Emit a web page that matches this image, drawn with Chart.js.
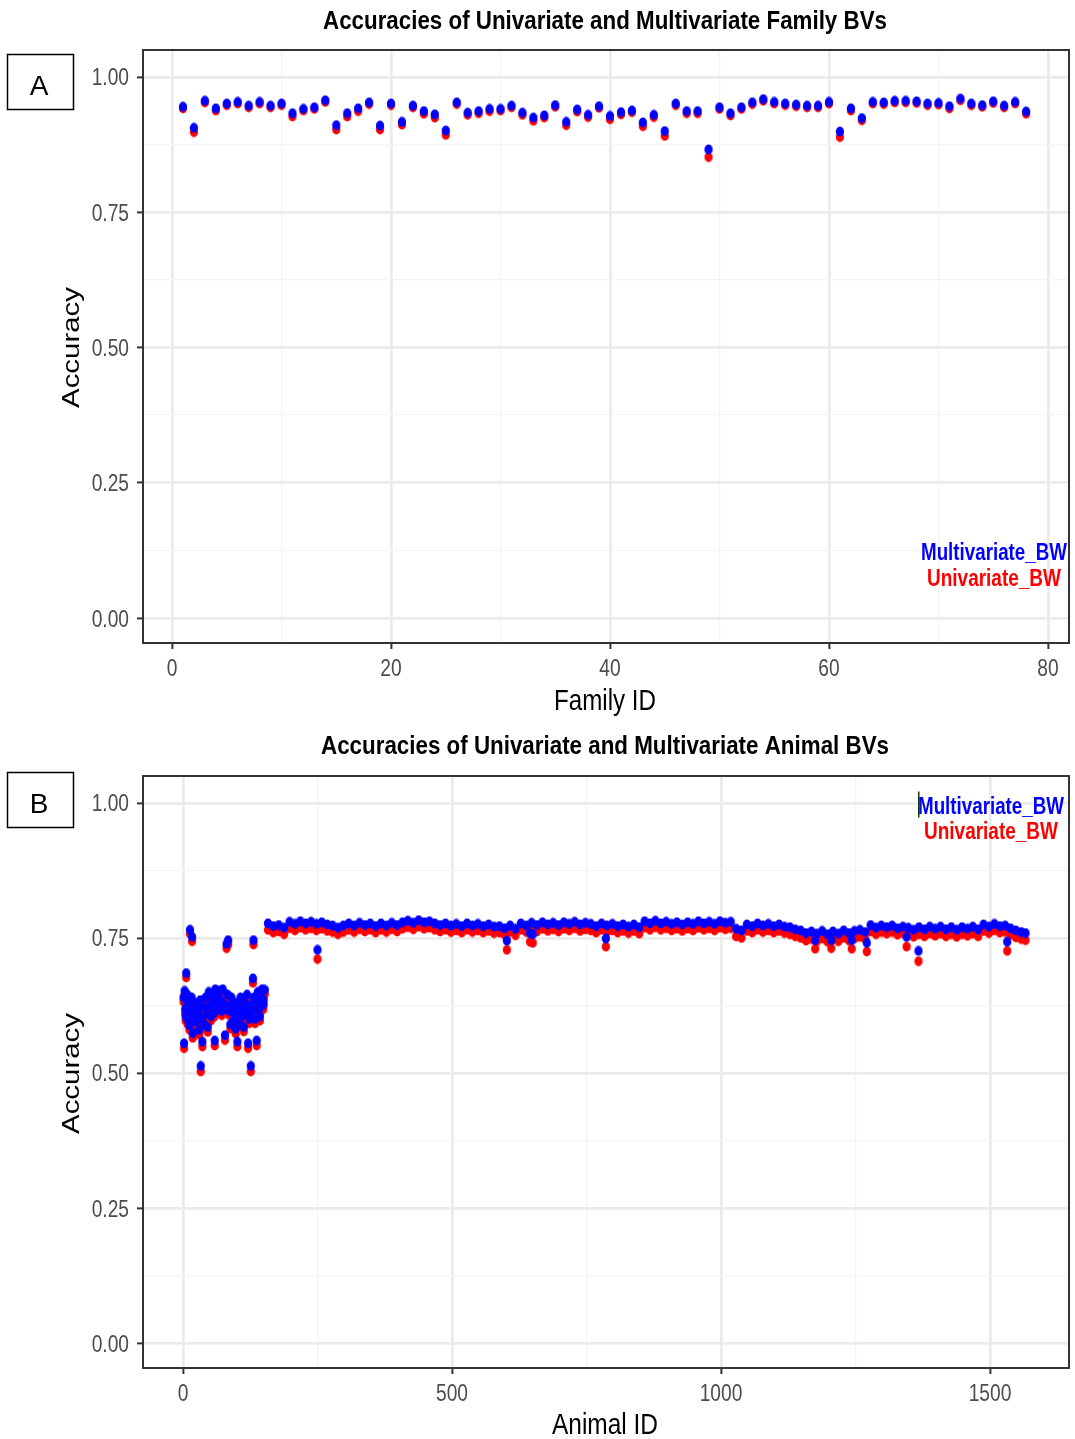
<!DOCTYPE html>
<html>
<head>
<meta charset="utf-8">
<script src="https://cdn.jsdelivr.net/npm/chart.js@4.4.1/dist/chart.umd.min.js"></script>
<style>
  body { margin: 0; background: #fff; }
  #wrap { position: relative; width: 1075px; height: 1439px; }
  canvas { position: absolute; left: 0; }
  #chartA { top: 0; }
  #chartB { top: 718px; }
</style>
</head>
<body>
<div id="wrap">
  <canvas id="chartA" width="1075" height="718"></canvas>
  <canvas id="chartB" width="1075" height="721"></canvas>
</div>
<script>
// Accuracies of univariate vs multivariate BVs — two scatter panels

const BLUE = '#0000FF';
const RED = '#FF0000';
const FONT = "'Liberation Sans', Arial, sans-serif";
const SX = 0.8; // the figure is squeezed horizontally

// ─── PANEL A: families ─────────────────────────────────────
const familyIds = [1,2,3,4,5,6,7,8,9,10,11,12,13,14,15,16,17,18,19,20,21,22,23,24,25,26,27,28,29,30,31,32,33,34,35,36,37,38,39,40,
  41,42,43,44,45,46,47,48,49,50,51,52,53,54,55,56,57,58,59,60,61,62,63,64,65,66,67,68,69,70,71,72,73,74,75,76,77,78];
const familyMulti = [0.945,0.906,0.956,0.942,0.951,0.954,0.947,0.954,0.947,0.951,0.933,0.941,0.944,0.957,0.911,0.933,0.942,0.953,0.910,0.951,
  0.917,0.947,0.937,0.931,0.901,0.953,0.934,0.937,0.941,0.941,0.947,0.934,0.925,0.929,0.948,0.917,0.940,0.930,0.946,0.928,
  0.935,0.938,0.916,0.930,0.900,0.951,0.937,0.937,0.866,0.944,0.933,0.944,0.953,0.959,0.954,0.951,0.949,0.947,0.947,0.954,
  0.899,0.942,0.924,0.954,0.953,0.956,0.956,0.955,0.951,0.952,0.946,0.960,0.951,0.948,0.955,0.947,0.954,0.936];
const familyUni = [0.942,0.898,0.953,0.938,0.948,0.951,0.944,0.951,0.944,0.948,0.927,0.938,0.941,0.954,0.903,0.927,0.937,0.950,0.903,0.948,
  0.912,0.944,0.932,0.925,0.893,0.950,0.930,0.933,0.937,0.938,0.944,0.930,0.919,0.925,0.945,0.911,0.936,0.926,0.943,0.922,
  0.931,0.935,0.909,0.926,0.891,0.948,0.933,0.933,0.852,0.941,0.929,0.941,0.950,0.956,0.951,0.948,0.946,0.944,0.944,0.951,
  0.889,0.938,0.920,0.951,0.950,0.953,0.953,0.952,0.948,0.949,0.942,0.957,0.948,0.945,0.952,0.944,0.951,0.932];

// ─── PANEL B: animals ──────────────────────────────────────
// young animals (scattered cluster)
const clusterIds = [1,2,3,4,5,6,7,8,9,10,11,12,13,14,15,16,17,18,19,20,22,24,26,28,30,32,33,35,36,38,40,42,44,46,48,50,52,54,56,58,
  59,60,62,64,66,68,70,72,74,76,78,80,81,83,84,86,88,90,92,94,96,98,100,101,103,105,107,109,111,113,115,117,119,121,123,125,126,128,130,131,
  132,134,136,137,139,141,143,145,147,149,150,152];
const clusterMulti = [0.640,0.555,0.652,0.618,0.605,0.685,0.628,0.645,0.598,0.610,0.633,0.588,0.765,0.620,0.600,0.640,0.752,0.574,0.615,0.605,
  0.630,0.595,0.625,0.612,0.580,0.635,0.513,0.600,0.558,0.622,0.590,0.640,0.610,0.585,0.650,0.625,0.605,0.645,0.630,0.612,
  0.560,0.655,0.640,0.620,0.650,0.652,0.635,0.615,0.655,0.628,0.570,0.625,0.739,0.645,0.746,0.615,0.590,0.640,0.625,0.600,
  0.610,0.582,0.630,0.558,0.615,0.595,0.640,0.605,0.620,0.585,0.630,0.610,0.645,0.555,0.600,0.625,0.513,0.615,0.675,0.746,
  0.640,0.600,0.628,0.560,0.650,0.618,0.605,0.640,0.655,0.626,0.635,0.654];
const clusterUni = [0.632,0.546,0.644,0.610,0.597,0.677,0.620,0.637,0.590,0.601,0.625,0.580,0.758,0.612,0.592,0.632,0.744,0.565,0.607,0.597,
  0.622,0.587,0.617,0.604,0.571,0.627,0.503,0.592,0.549,0.614,0.582,0.632,0.602,0.576,0.642,0.617,0.597,0.637,0.622,0.604,
  0.551,0.647,0.632,0.612,0.642,0.644,0.627,0.607,0.647,0.620,0.561,0.617,0.731,0.637,0.738,0.607,0.582,0.632,0.617,0.592,
  0.602,0.573,0.622,0.549,0.607,0.587,0.632,0.597,0.612,0.577,0.622,0.602,0.637,0.546,0.592,0.617,0.503,0.607,0.667,0.738,
  0.632,0.592,0.620,0.551,0.642,0.610,0.597,0.632,0.647,0.618,0.627,0.646];

// older animals (tight band)
const bandIds = [158,168,178,188,198,208,218,228,238,248,258,268,278,288,298,308,318,328,338,348,358,368,378,388,398,408,418,428,438,448,
  458,468,478,488,498,508,518,528,538,548,558,568,578,588,598,608,618,628,638,648,658,668,678,688,698,708,718,728,738,748,
  758,768,778,788,798,808,818,828,838,848,858,868,878,888,898,908,918,928,938,948,958,968,978,988,998,1008,1018,1028,1038,1048,
  1058,1068,1078,1088,1098,1108,1118,1128,1138,1148,1158,1168,1178,1188,1198,1208,1218,1228,1238,1248,1258,1268,1278,1288,1298,1308,1318,1328,1338,1348,
  1358,1368,1378,1388,1398,1408,1418,1428,1438,1448,1458,1468,1478,1488,1498,1508,1518,1528,1538,1548,1558,1566];
const bandMulti = [0.777,0.772,0.774,0.769,
  0.780,0.776,0.781,0.777,0.780,0.776,0.779,0.775,
  0.773,0.769,0.773,
  0.777,0.773,0.778,0.774,0.777,0.772,0.777,0.773,0.778,0.774,0.779,
  0.782,0.778,0.783,0.779,0.781,
  0.777,0.774,0.777,0.773,0.776,0.772,0.777,0.773,0.776,0.772,0.775,0.771,
  0.772,0.768,0.773,0.767,
  0.777,0.773,0.778,0.774,0.779,0.775,0.778,0.774,0.779,0.776,0.780,0.775,0.778,
  0.776,0.772,0.777,0.773,0.776,0.772,0.775,0.771,0.775,0.770,
  0.781,0.777,0.782,0.777,0.780,0.776,0.779,0.775,0.779,0.776,
  0.781,0.777,0.780,0.776,0.781,0.778,0.780,
  0.767,0.764,
  0.775,0.772,0.777,0.773,0.776,0.772,0.775,0.771,
  0.770,0.766,
  0.764,0.759,0.762,0.758,0.763,0.757,0.762,0.758,0.764,0.759,0.763,0.765,0.761,
  0.774,0.769,0.773,0.770,0.773,0.768,0.771,
  0.769,0.765,0.770,0.766,0.771,0.767,0.771,0.766,0.770,0.765,0.770,0.767,0.771,0.766,
  0.775,0.771,0.776,0.772,0.773,0.768,
  0.764,0.761,0.759];
const bandUni = [0.765,0.760,0.762,0.757,
  0.768,0.764,0.769,0.765,0.768,0.764,0.767,0.763,
  0.761,0.757,0.761,
  0.765,0.761,0.766,0.762,0.765,0.760,0.765,0.761,0.766,0.762,0.767,
  0.770,0.766,0.771,0.767,0.769,
  0.765,0.762,0.765,0.761,0.764,0.760,0.765,0.761,0.764,0.760,0.763,0.759,
  0.760,0.756,0.761,0.755,
  0.765,0.761,0.766,0.762,0.767,0.763,0.766,0.762,0.767,0.764,0.768,0.763,0.766,
  0.764,0.760,0.765,0.761,0.764,0.760,0.763,0.759,0.763,0.758,
  0.769,0.765,0.770,0.765,0.768,0.764,0.767,0.763,0.767,0.764,
  0.769,0.765,0.768,0.764,0.769,0.766,0.768,
  0.753,0.750,
  0.763,0.760,0.765,0.761,0.764,0.760,0.763,0.759,
  0.757,0.753,
  0.750,0.745,0.748,0.744,0.749,0.743,0.748,0.744,0.750,0.745,0.749,0.752,0.748,
  0.762,0.757,0.761,0.758,0.761,0.756,0.759,
  0.756,0.752,0.757,0.753,0.758,0.754,0.758,0.753,0.757,0.752,0.757,0.754,0.758,0.753,
  0.763,0.759,0.764,0.760,0.761,0.756,
  0.751,0.748,0.746];

// low points below the band
const outlierIds = [250,602,645,650,786,1175,1205,1243,1271,1345,1367,1532];
const outlierMulti = [0.728,0.745,0.759,0.757,0.749,0.746,0.746,0.746,0.741,0.752,0.726,0.743];
const outlierUni = [0.711,0.728,0.743,0.741,0.734,0.730,0.731,0.730,0.725,0.734,0.707,0.726];

// ─── AXES ─────────────────────────────────────────────────
const yMajor = [0, 0.25, 0.5, 0.75, 1];
const yMajorLabels = ['0.00', '0.25', '0.50', '0.75', '1.00'];
const yMinor = [0.125, 0.375, 0.625, 0.875];
const familyMajor = [0, 20, 40, 60, 80];
const familyMinor = [10, 30, 50, 70];
const animalMajor = [0, 500, 1000, 1500];
const animalMinor = [250, 750, 1250];

const toPoints = (xs, ys) => xs.map((x, i) => ({ x, y: ys[i] }));

// dots are slightly taller than wide in the squeezed figure
function dotImage(color) {
  const c = document.createElement('canvas');
  c.width = 10; c.height = 11;
  const g = c.getContext('2d');
  g.fillStyle = color;
  g.beginPath();
  g.ellipse(5, 5.5, 4.1, 4.9, 0, 0, Math.PI * 2);
  g.fill();
  return c;
}

function drawText(ctx, text, x, y, font, color, width, align, sx) {
  ctx.save();
  ctx.font = font;
  ctx.fillStyle = color;
  ctx.textBaseline = 'alphabetic';
  ctx.textAlign = align || 'center';
  const k = width ? width / ctx.measureText(text).width : (sx || SX);
  ctx.translate(x, y);
  ctx.scale(k, 1);
  ctx.fillText(text, 0, 0);
  ctx.restore();
}

function gridOpts(major) {
  const isMajor = c => c.tick && major.includes(c.tick.value);
  return {
    drawTicks: true,
    tickLength: 6,
    tickWidth: 2,
    color: c => isMajor(c) ? '#EBEBEB' : '#F4F4F4',
    lineWidth: c => isMajor(c) ? 2.8 : 1.3,
    tickColor: c => isMajor(c) ? '#333333' : 'rgba(0,0,0,0)',
  };
}

const decor = cfg => ({
  id: 'decor',
  afterDraw(chart) {
    const { ctx, chartArea: a, scales } = chart;

    // panel border
    ctx.save();
    ctx.strokeStyle = '#333333';
    ctx.lineWidth = 2;
    ctx.strokeRect(a.left, a.top, a.right - a.left, a.bottom - a.top);
    ctx.restore();

    // tick labels
    const tickFont = `24px ${FONT}`;
    yMajor.forEach((v, i) => drawText(ctx, yMajorLabels[i], 129, scales.y.getPixelForValue(v) + 8.5, tickFont, '#4D4D4D', null, 'right'));
    cfg.xMajor.forEach(v => drawText(ctx, String(v), scales.x.getPixelForValue(v), a.bottom + 33, tickFont, '#4D4D4D', null, 'center'));

    // titles
    drawText(ctx, cfg.title, 605, cfg.titleY, `bold 26px ${FONT}`, '#000', cfg.titleW, 'center');
    drawText(ctx, cfg.xTitle, 605, cfg.xTitleY, `29px ${FONT}`, '#000', cfg.xTitleW, 'center');

    ctx.save();
    ctx.translate(72, cfg.yTitleY);
    ctx.rotate(-Math.PI / 2);
    ctx.scale(1, 0.85);
    ctx.font = `29px ${FONT}`;
    ctx.fillStyle = '#000';
    ctx.textAlign = 'center';
    ctx.textBaseline = 'middle';
    const k = 121 / ctx.measureText('Accuracy').width;
    ctx.scale(k, 1);
    ctx.fillText('Accuracy', 0, 0);
    ctx.restore();

    // legend text
    drawText(ctx, 'Multivariate_BW', cfg.legX, cfg.legY1, `bold 24px ${FONT}`, BLUE, 146, 'center');
    drawText(ctx, 'Univariate_BW', cfg.legX, cfg.legY2, `bold 24px ${FONT}`, RED, 134, 'center');
    if (cfg.cursorX) {
      ctx.fillStyle = '#0B3D0B';
      ctx.fillRect(cfg.cursorX, cfg.legY1 - 22, 1.5, 26);
    }

    // panel letter box
    ctx.save();
    ctx.strokeStyle = '#000';
    ctx.lineWidth = 1.5;
    ctx.strokeRect(7.5, 54.5, 66, 55);
    ctx.restore();
    drawText(ctx, cfg.letter, 39, 95, `28px ${FONT}`, '#000', null, 'center', 1);
  }
});

function makePanel(id, cfg) {
  const pt = { pointRadius: 5, pointHoverRadius: 5, pointBorderWidth: 0 };
  return new Chart(document.getElementById(id), {
    type: 'scatter',
    data: {
      datasets: [
        { label: 'Multivariate_BW', data: toPoints(cfg.ids, cfg.multi), pointStyle: dotImage(BLUE), backgroundColor: BLUE, ...pt },
        { label: 'Univariate_BW', data: toPoints(cfg.ids, cfg.uni), pointStyle: dotImage(RED), backgroundColor: RED, ...pt },
      ],
    },
    options: {
      responsive: false,
      animation: false,
      events: [],
      layout: { autoPadding: false, padding: { top: cfg.top, right: 6, left: 0, bottom: 0 } },
      plugins: { legend: { display: false }, tooltip: { enabled: false } },
      scales: {
        x: {
          type: 'linear',
          min: cfg.xMin,
          max: cfg.xMax,
          afterBuildTicks: s => { s.ticks = [...cfg.xMajor, ...cfg.xMinor].sort((p, q) => p - q).map(v => ({ value: v })); },
          afterFit: s => { s.height = cfg.xAxisH; },
          ticks: { display: false },
          border: { display: false },
          grid: gridOpts(cfg.xMajor),
        },
        y: {
          type: 'linear',
          min: -0.0462,
          max: 1.0499,
          afterBuildTicks: s => { s.ticks = [...yMajor, ...yMinor].sort((p, q) => p - q).map(v => ({ value: v })); },
          afterFit: s => { s.width = 143; },
          ticks: { display: false },
          border: { display: false },
          grid: gridOpts(yMajor),
        },
      },
    },
    plugins: [decor(cfg)],
  });
}

makePanel('chartA', {
  ids: familyIds, multi: familyMulti, uni: familyUni,
  xMin: -2.65, xMax: 81.92, xMajor: familyMajor, xMinor: familyMinor,
  top: 50, xAxisH: 75,
  title: 'Accuracies of Univariate and Multivariate Family BVs', titleY: 28.5, titleW: 564,
  xTitle: 'Family ID', xTitleY: 709.5, xTitleW: 102, yTitleY: 347.5,
  legX: 994, legY1: 559.5, legY2: 586,
  letter: 'A',
});

makePanel('chartB', {
  ids: [...clusterIds, ...bandIds, ...outlierIds],
  multi: [...clusterMulti, ...bandMulti, ...outlierMulti],
  uni: [...clusterUni, ...bandUni, ...outlierUni],
  xMin: -74.3, xMax: 1646.8, xMajor: animalMajor, xMinor: animalMinor,
  top: 58, xAxisH: 71,
  title: 'Accuracies of Univariate and Multivariate Animal BVs', titleY: 35.5, titleW: 568,
  xTitle: 'Animal ID', xTitleY: 715.5, xTitleW: 106, yTitleY: 355.5,
  legX: 991, legY1: 95.5, legY2: 121,
  cursorX: 918,
  letter: 'B',
});
</script>
</body>
</html>
